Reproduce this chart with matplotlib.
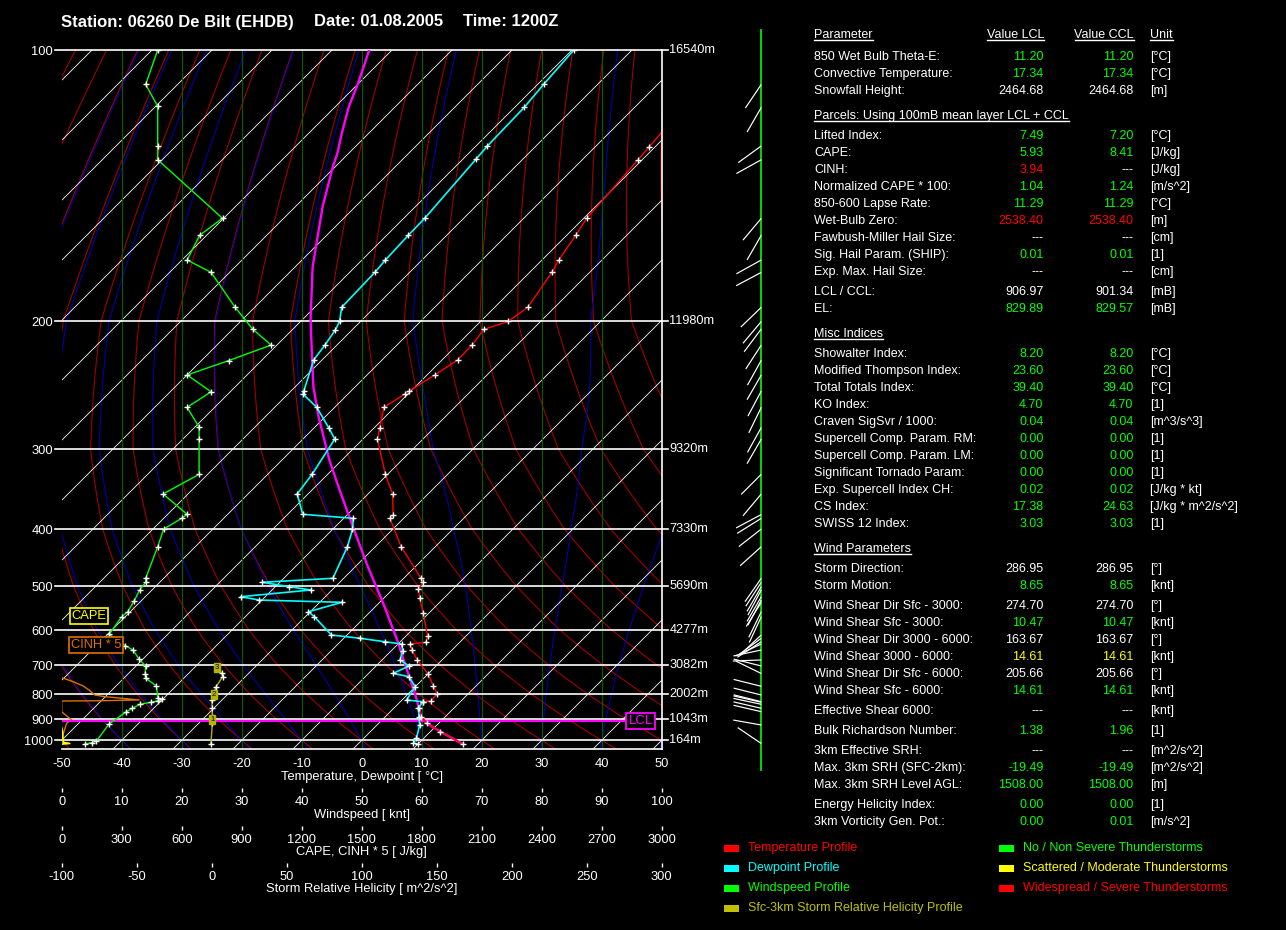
import numpy as np
import matplotlib
matplotlib.use("Agg")
import matplotlib.pyplot as plt
from matplotlib.transforms import Affine2D, blended_transform_factory
from matplotlib.lines import Line2D
from matplotlib.patches import Rectangle

plt.rcParams['font.family'] = ['Liberation Sans', 'DejaVu Sans']
plt.rcParams['axes.unicode_minus'] = False

W, H = 1286, 930

# ---------------- sounding data ----------------
p_levels = [100, 200, 300, 400, 500, 600, 700, 800, 900, 1000]
height_labels = ["16540m", "11980m", "9320m", "7330m", "5690m",
                 "4277m", "3082m", "2002m", "1043m", "164m"]

temp_p = [100, 128.0, 132.4, 153.8, 160.6, 171.1, 176.6, 193.1, 200.3, 205.3,
          215.8, 226.2, 237.2, 249.3, 251.9, 262.7, 280.2, 290.4, 328.2, 352.3,
          380.0, 384.5, 428.2, 484.6, 492.2, 506.3, 525.4, 558.2, 615.2, 633.1,
          637.3, 654.4, 683.8, 728.6, 769.2, 799.0, 824.6, 828.7, 855.2, 890.2,
          919.3, 958.4, 1019]
temp_c = [-53.2, -51.0, -50.7, -49.5, -48.5, -47.2, -46.3, -44.5, -45.4, -48.1,
          -47.5, -47.4, -48.7, -50.3, -50.5, -51.8, -49.1, -47.6, -40.4, -35.9,
          -32.3, -32.3, -25.7, -17.1, -16.1, -15.7, -14.0, -11.0, -6.4, -5.65,
          -8.0, -6.7, -4.1, 0.0, 2.85, 4.85, 5.0, 3.8, 4.2, 6.0,
          8.0, 11.7, 17.5]

dew_p = [100, 109.2, 115.8, 127.8, 132.3, 153.8, 160.6, 171.1, 176.6, 193.1,
         200.3, 205.6, 215.8, 226.2, 249.3, 251.9, 262.7, 280.2, 290.4, 328.2,
         352.3, 379.0, 384.5, 400.0, 428.2, 484.6, 492.2, 500.8, 507.7, 522.0,
         529.3, 534.3, 555.5, 567.1, 612.5, 621.5, 630.9, 637.3, 656.4, 683.8,
         702.2, 726.4, 737.7, 772.8, 822.0, 828.7, 855.2, 890.2, 927.1, 990.2,
         1014, 1019]
dew_c = [-79.7, -79.0, -78.4, -78.1, -77.8, -76.5, -76.4, -76.1, -75.8, -75.5,
         -73.5, -72.8, -72.0, -71.4, -67.9, -67.5, -63.0, -57.6, -54.7, -52.6,
         -51.8, -47.5, -38.4, -36.7, -34.65, -31.8, -42.9, -37.7, -33.5, -44.1,
         -40.5, -26.3, -30.3, -28.5, -22.6, -17.25, -12.6, -9.4, -8.1, -7.0,
         -4.5, -5.9, -2.7, 0.0, 0.75, 3.7, 4.1, 5.6, 7.1, 8.8,
         9.1, 10.0]

parcel_p = [100, 103.5, 108.9, 115.6, 123.7, 130.2, 134.8, 141.2, 149.3, 164.0,
            174.1, 199.4, 221.5, 246.1, 270.7, 311.8, 347.3, 398.6, 460.0, 536.5,
            626.2, 683.8, 802.7, 890.2, 919.3, 958.4, 1019]
parcel_c = [-113.8, -112.3, -110.1, -107.75, -104.5, -101.9, -100.4, -98.15, -95.45, -90.35,
            -87.1, -78.6, -72.8, -67.0, -61.1, -52.1, -45.4, -36.7, -28.3, -19.25,
            -10.8, -6.4, 1.4, 6.0, 8.0, 11.7, 17.5]

wind_p = [100, 109.2, 115.5, 127.8, 132.4, 153.8, 160.6, 171.1, 176.6, 193.1,
          205.1, 215.8, 226.7, 237.2, 250.1, 262.7, 279.8, 290.4, 328.2, 352.3,
          379.0, 384.5, 399.6, 428.2, 484.6, 492.2, 507.7, 530.8, 555.5, 567.1,
          611.2, 642.1, 654.4, 681.7, 702.2, 728.6, 743.2, 770.0, 813.1, 819.2,
          824.6, 831.1, 839.1, 855.2, 869.1, 922.2, 1003.5, 1011.6, 1019]
wind_kt = [16.0, 14.0, 16.0, 16.0, 16.0, 26.8, 23.0, 20.9, 24.9, 28.9,
           31.8, 34.9, 27.8, 20.9, 24.9, 20.9, 22.9, 22.9, 22.9, 16.9,
           20.9, 20.0, 17.0, 16.0, 14.0, 14.0, 13.0, 12.1, 11.0, 10.0,
           7.9, 10.6, 11.9, 12.9, 14.0, 13.9, 14.0, 15.8, 16.0, 16.8,
           16.1, 14.9, 13.0, 11.8, 10.8, 7.9, 5.8, 5.0, 3.9]

barb_p = [109.2, 115.8, 127.8, 132.4, 153.8, 160.6, 171.1, 176.6, 193.1, 200.3,
          205.1, 215.8, 226.4, 237.2, 249.5, 262.7, 280.0, 290.4, 328.2, 352.3,
          379.3, 384.5, 399.6, 428.2, 484.6, 492.2, 500.8, 507.7, 522.0, 529.3,
          534.3, 555.5, 567.1, 612.5, 621.5, 630.9, 637.3, 654.4, 683.8, 702.2,
          727.0, 771.1, 802.7, 828.7, 831.1, 839.1, 855.2, 869.1, 927.1, 1016]
barb_dir = [214, 210, 234, 241, 220, 210, 241, 242, 226, 220,
            217, 213, 209, 210, 208, 206, 209, 210, 225, 220,
            242, 238, 232, 228, 215, 213, 210, 208, 210, 208,
            212, 206, 205, 227, 234, 237, 245, 258, 268, 284,
            296, 284, 284, 284, 283, 282, 283, 283, 280, 304]

srh_p = [706.5, 726.4, 737.7, 772.8, 800, 822.0, 855.2, 901.3, 919.3, 1016]
srh_val = [3.7, 6.7, 7.3, 2.9, 1.1, 0.0, 0.4, 0.4, 0.4, -0.5]
srh_mark_p = [901.3, 800, 706.5]
srh_mark_val = [0.4, 1.5, 3.7]
srh_mark_txt = ["1", "2", "3"]

cape_p = [1019, 1016, 1010, 990, 960, 940]
cape_val = [0, 40, 8, 6, 4, 0]
cinh_p = [741, 755, 770, 787, 803, 809, 822, 825, 826, 869, 887, 904, 919, 966, 1014]
cinh_val = [0, 58, 108, 141, 166, 216, 388, 191, 0, 0, 25, 50, 25, 8, 0]
lcl_p = 906.97

# ---------------- parameter table ----------------
row_labels = ["850 Wet Bulb Theta-E:", "Convective Temperature:", "Snowfall Height:",
              "Lifted Index:", "CAPE:", "CINH:", "Normalized CAPE * 100:", "850-600 Lapse Rate:",
              "Wet-Bulb Zero:", "Fawbush-Miller Hail Size:", "Sig. Hail Param. (SHIP):",
              "Exp. Max. Hail Size:", "LCL / CCL:", "EL:",
              "Showalter Index:", "Modified Thompson Index:", "Total Totals Index:", "KO Index:",
              "Craven SigSvr / 1000:", "Supercell Comp. Param. RM:", "Supercell Comp. Param. LM:",
              "Significant Tornado Param:", "Exp. Supercell Index CH:", "CS Index:", "SWISS 12 Index:",
              "Storm Direction:", "Storm Motion:", "Wind Shear Dir Sfc - 3000:", "Wind Shear Sfc - 3000:",
              "Wind Shear Dir 3000 - 6000:", "Wind Shear 3000 - 6000:", "Wind Shear Dir Sfc - 6000:",
              "Wind Shear Sfc - 6000:", "Effective Shear 6000:", "Bulk Richardson Number:",
              "3km Effective SRH:", "Max. 3km SRH (SFC-2km):", "Max. 3km SRH Level AGL:",
              "Energy Helicity Index:", "3km Vorticity Gen. Pot.:"]
row_lcl = ["11.20", "17.34", "2464.68", "7.49", "5.93", "3.94", "1.04", "11.29", "2538.40", "---",
           "0.01", "---", "906.97", "829.89", "8.20", "23.60", "39.40", "4.70", "0.04", "0.00",
           "0.00", "0.00", "0.02", "17.38", "3.03", "286.95", "8.65", "274.70", "10.47", "163.67",
           "14.61", "205.66", "14.61", "---", "1.38", "---", "-19.49", "1508.00", "0.00", "0.00"]
row_ccl = ["11.20", "17.34", "2464.68", "7.20", "8.41", "---", "1.24", "11.29", "2538.40", "---",
           "0.01", "---", "901.34", "829.57", "8.20", "23.60", "39.40", "4.70", "0.04", "0.00",
           "0.00", "0.00", "0.02", "24.63", "3.03", "286.95", "8.65", "274.70", "10.47", "163.67",
           "14.61", "205.66", "14.61", "---", "1.96", "---", "-19.49", "1508.00", "0.00", "0.01"]
row_unit = ["[°C]", "[°C]", "[m]", "[°C]", "[J/kg]", "[J/kg]", "[m/s^2]", "[°C]", "[m]", "[cm]",
            "[1]", "[cm]", "[mB]", "[mB]", "[°C]", "[°C]", "[°C]", "[1]", "[m^3/s^3]", "[1]",
            "[1]", "[1]", "[J/kg * kt]", "[J/kg * m^2/s^2]", "[1]", "[°]", "[knt]", "[°]", "[knt]", "[°]",
            "[knt]", "[°]", "[knt]", "[knt]", "[1]", "[m^2/s^2]", "[m^2/s^2]", "[m]", "[1]", "[m/s^2]"]
row_col_lcl = "ggwggrggrw" + "gwwggggggg" + "gggggwgwgw" + "ywgwgwgggg"
row_col_ccl = "ggwggwggrw" + "gwwggggggg" + "gggggwgwgw" + "ywgwgwgggg"
row_y = [56.7, 74, 91, 136, 153.3, 170, 186.7, 204, 221, 238.3, 255.3, 272.3, 292.3, 309.3,
         354, 371, 388.3, 405.3, 422.3, 439.3, 456.3, 473.3, 490.3, 507.3, 524.3,
         569.3, 586.3, 606, 623.3, 640, 657.3, 674, 691, 711, 731, 751, 768.3, 785, 805, 822.3]
COL = {"g": "#00ff00", "w": "white", "r": "#ff0000", "y": "#ffff00"}

legend_left = [("Temperature Profile", "#ff0000"), ("Dewpoint Profile", "#00ffff"),
               ("Windspeed Profile", "#00ff00"), ("Sfc-3km Storm Relative Helicity Profile", "#c0c000")]
legend_right = [("No / Non Severe Thunderstorms", "#00ff00"),
                ("Scattered / Moderate Thunderstorms", "#ffff00"),
                ("Widespread / Severe Thunderstorms", "#ff0000")]

# ---------------- pressure scale (pixel rows of the diagram) ----------------
SCALE_P = np.array([10, 100, 200, 300, 400, 500, 600, 700, 800, 900, 1000, 2000.])
SCALE_Y = np.array([-850.0, 50, 321, 449.3, 529.3, 586.3, 630.3, 665.3, 694.3, 719, 740.3, 880.4])
LOGP = np.log(SCALE_P)


def p_fwd(p):
    p = np.asarray(p, dtype=float)
    with np.errstate(divide='ignore', invalid='ignore'):
        lp = np.log(np.clip(p, 1e-3, None))
    return np.interp(lp, LOGP, SCALE_Y)


def p_inv(v):
    v = np.asarray(v, dtype=float)
    return np.exp(np.interp(v, SCALE_Y, LOGP))


def moist_curve(t0):
    Rd, cp, Lv, eps = 287.04, 1005.7, 2.501e6, 0.622

    def f(T, p):
        es = 6.112 * np.exp(17.67 * (T - 273.15) / (T - 29.65))
        rs = eps * es / (p - es)
        return (Rd * T + Lv * rs) / (p * (cp + Lv * Lv * rs * eps / (Rd * T * T)))

    parts = []
    for dp, pend in ((-5.0, 95.0), (5.0, 1100.0)):
        T, p = t0 + 273.15, 1000.0
        ps, ts = [p], [T]
        while (p > pend) if dp < 0 else (p < pend):
            k1 = f(T, p)
            k2 = f(T + 0.5 * dp * k1, p + 0.5 * dp)
            k3 = f(T + 0.5 * dp * k2, p + 0.5 * dp)
            k4 = f(T + dp * k3, p + dp)
            T += dp * (k1 + 2 * k2 + 2 * k3 + k4) / 6
            p += dp
            ps.append(p)
            ts.append(T)
        parts.append((ps, ts))
    ps = parts[0][0][::-1] + parts[1][0][1:]
    ts = parts[0][1][::-1] + parts[1][1][1:]
    return np.array(ts) - 273.15, np.array(ps)


def px(x, y):
    return x / W, 1 - y / H


def ftext(x, y, s, **kw):
    kw.setdefault('fontsize', 9)
    kw.setdefault('va', 'center')
    return fig.text(x / W, 1 - y / H, s, **kw)


fig = plt.figure(figsize=(W / 100, H / 100), dpi=100, facecolor='black')

ax = fig.add_axes([61.7 / W, 1 - 749 / H, 600 / W, 699 / H])
ax.set_facecolor('black')
ax.set_yscale('function', functions=(p_fwd, p_inv))
P_BOT = float(p_inv(749.0))
ax.set_xlim(-50, 50)
ax.set_ylim(P_BOT, 100)

y0 = ax.transData.transform((0, 1000))[1]
skew = ax.transData + Affine2D().translate(0, -y0).skew_deg(45, 0).translate(0, y0)

# background: dry adiabats, moist adiabats, isotherms, speed grid
pp = np.geomspace(95, 1100, 300)
for t0 in range(-60, 150, 10):
    th = t0 + 273.15
    ax.plot(th * (pp / 1000.0) ** 0.2857 - 273.15, pp, color='#a00000', lw=0.8,
            transform=skew, zorder=1)
for t0 in range(-40, 51, 10):
    mt, mp = moist_curve(t0)
    ax.plot(mt, mp, color='#0000a8', lw=0.8, transform=skew, zorder=1)
for t in range(-170, 51, 10):
    ax.plot([t, t], [1100, 95], color='white', lw=0.6, transform=skew, zorder=2)
for t in range(-40, 50, 10):
    ax.axvline(t, color='#006000', lw=0.8, zorder=2)

for p in p_levels:
    ax.plot([-51.1, 51.05], [p, p], color='white', lw=1.2, clip_on=False, zorder=4)

# profiles
ax.plot(np.array(cinh_val) / 30.0 - 50, cinh_p, color='#e07000', lw=1, zorder=5)
ax.plot(np.array(cape_val) / 30.0 - 50, cape_p, color='#ffff00', lw=1.2, zorder=5)
ax.plot([-50, 43.9], [lcl_p, lcl_p], color='#ff00ff', lw=1.5, zorder=5)
ax.plot(parcel_c, parcel_p, color='#ff00ff', lw=1.7, transform=skew, zorder=6)
ax.plot(temp_c, temp_p, color='#ff0000', lw=1, marker='+', ms=5, mec='white', mew=1,
        transform=skew, zorder=7)
ax.plot(dew_c, dew_p, color='#00ffff', lw=1.2, marker='+', ms=5, mec='white', mew=1,
        transform=skew, zorder=7)
ax.plot(np.array(wind_kt) - 50, wind_p, color='#00ff00', lw=1, marker='+', ms=5,
        mec='white', mew=1, zorder=7)
ax.plot((np.array(srh_val) + 100) / 4.0 - 50, srh_p, color='#b4b400', lw=1, marker='+',
        ms=5, mec='white', mew=1, zorder=7)
for sp, sv, st in zip(srh_mark_p, srh_mark_val, srh_mark_txt):
    ax.text((sv + 100) / 4.0 - 50, sp, st, fontsize=5.5, color='black', ha='center',
            va='center', zorder=9,
            bbox=dict(boxstyle='square,pad=0.12', fc='#b4b400', ec='#b4b400'))

ax.text(-45.45, 565.0, "CAPE", color='#ffff00', fontsize=9.3, ha='center', va='center',
        zorder=9, bbox=dict(boxstyle='square,pad=0.15', fc='black', ec='#ffff00', lw=1.2))
ax.text(-44.3, 640.1, "CINH * 5", color='#e07000', fontsize=9.3, ha='center', va='center',
        zorder=9, bbox=dict(boxstyle='square,pad=0.15', fc='black', ec='#e07000', lw=1.2))
ax.text(46.47, lcl_p, "LCL", color='#ff00ff', fontsize=9.5, ha='center', va='center',
        zorder=9, bbox=dict(boxstyle='square,pad=0.15', fc='black', ec='#ff00ff', lw=1.3))

# axes styling
for s in ('left', 'top'):
    ax.spines[s].set_visible(False)
for s in ('bottom', 'right'):
    ax.spines[s].set_color('white')
    ax.spines[s].set_linewidth(1.2)
    ax.spines[s].set_zorder(8)
ax.set_xticks(range(-50, 51, 10))
ax.tick_params(axis='x', length=0, pad=6.5, labelcolor='white', labelsize=9.3)
ax.set_yticks(p_levels)
ax.set_yticklabels([str(p) for p in p_levels])
ax.tick_params(axis='y', length=0, pad=6.3, labelcolor='white', labelsize=9.3)
ax.minorticks_off()

rtrans = blended_transform_factory(ax.transAxes, ax.transData)
for p, lab in zip(p_levels, height_labels):
    ax.text((669.5 - 61.7) / 600, p, lab, transform=rtrans, color='white', fontsize=9.2,
            ha='left', va='center', clip_on=False)

sec_defs = [(788.3, (lambda x: x + 50, lambda v: v - 50), range(0, 101, 10)),
            (826.0, (lambda x: (x + 50) * 30, lambda c: c / 30 - 50), range(0, 3001, 300)),
            (863.3, (lambda x: (x + 50) * 4 - 100, lambda s: (s + 100) / 4 - 50), range(-100, 301, 50))]
for ypix, funcs, ticks in sec_defs:
    sec = ax.secondary_xaxis((749 - ypix) / 699, functions=funcs)
    sec.set_xticks(list(ticks))
    sec.spines['bottom'].set_visible(False)
    sec.tick_params(axis='x', colors='white', length=2.9, width=1, pad=2.6, labelsize=9.3)

for txt, ypix in [("Temperature, Dewpoint [ °C]", 776.7), ("Windspeed [ knt]", 815),
                  ("CAPE, CINH * 5 [ J/kg]", 852.3), ("Storm Relative Helicity [ m^2/s^2]", 889)]:
    ftext(361.7, ypix, txt, color='white', ha='center', fontsize=9.3)

# title
ftext(61, 22, "Station: 06260 De Bilt (EHDB)", color='white', fontsize=12, fontweight='bold')
ftext(314, 22, "Date: 01.08.2005", color='white', fontsize=12, fontweight='bold')
ftext(463, 22, "Time: 1200Z", color='white', fontsize=12, fontweight='bold')

# wind direction column
bax = fig.add_axes([700 / W, 1 - 749 / H, 100 / W, 699 / H])
bax.set_yscale('function', functions=(p_fwd, p_inv))
bax.set_ylim(P_BOT, 100)
bax.set_xlim(700, 800)
bax.axis('off')
bax.plot([761.3, 761.3], [float(p_inv(30)), float(p_inv(770))], color='#00ff00', lw=1.2,
         clip_on=False)
rad = np.deg2rad(barb_dir)
bax.quiver(np.full(len(barb_p), 761.3), barb_p, 28.5 * np.sin(rad), 28.5 * np.cos(rad),
           angles='uv', scale_units='dots', scale=1, units='dots', width=1.2,
           headwidth=0, headlength=0, headaxislength=0, pivot='tail', color='white', zorder=3)

# parameter table
headers = [ftext(814, 35, "Parameter", color='white'),
           ftext(1044, 35, "Value LCL", color='white', ha='right'),
           ftext(1134, 35, "Value CCL", color='white', ha='right'),
           ftext(1150, 35, "Unit", color='white')]
for txt, ypix in [("Parcels: Using 100mB mean layer LCL + CCL", 116),
                  ("Misc Indices", 334.3), ("Wind Parameters", 549.3)]:
    headers.append(ftext(814, ypix, txt, color='white'))
for i, lab in enumerate(row_labels):
    y = row_y[i]
    ftext(814, y, lab, color='white')
    ftext(1043.5, y, row_lcl[i], color=COL[row_col_lcl[i]], ha='right')
    ftext(1133.5, y, row_ccl[i], color=COL[row_col_ccl[i]], ha='right')
    ftext(1150, y, row_unit[i], color='white')

# legend
for k, (lab, c) in enumerate(legend_left):
    y = 848.3 + 20 * k
    fig.add_artist(Rectangle(px(723.5, y + 3.5), 15 / W, 7 / H, transform=fig.transFigure,
                             color=c, lw=0))
    ftext(747.8, y, lab, color=c)
for k, (lab, c) in enumerate(legend_right):
    y = 848.3 + 20 * k
    fig.add_artist(Rectangle(px(999, y + 3.5), 15 / W, 7 / H, transform=fig.transFigure,
                             color=c, lw=0))
    ftext(1023.2, y, lab, color=c)

fig.canvas.draw()
rend = fig.canvas.get_renderer()
for t in headers:
    bb = t.get_window_extent(rend)
    fig.add_artist(Line2D([bb.x0 / W, bb.x1 / W], [(bb.y0 + 1.2) / H] * 2,
                          transform=fig.transFigure, color='white', lw=1))

fig.savefig("out.png", dpi=100, facecolor='black')
